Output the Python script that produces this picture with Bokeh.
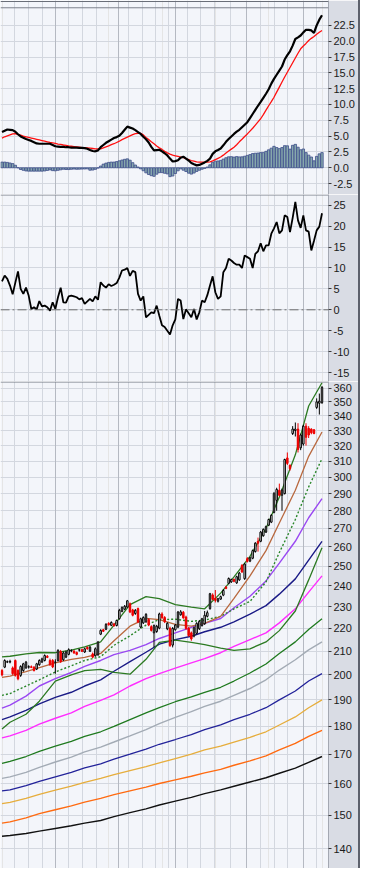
from bokeh.plotting import figure
from bokeh.models import Range1d, FixedTicker, PrintfTickFormatter, Span, Grid, Div
from bokeh.layouts import column, row
from bokeh.embed import file_html
from bokeh.resources import INLINE

# ---------------- data ----------------
# daily bars, index 0..120
opens = [201.8, 203.2, 205.3,
         205.3, 202.9, 206.0, 201.8, 199.8, 201.8, 202.9, 203.2, 203.4, 203.2,
         202.4, 204.2, 205.3, 206.0, 207.8, 206.0, 206.0, 205.2, 206.0, 209.8,
         206.3, 207.4, 208.6, 210.1, 210.0, 209.4, 210.4, 210.6, 209.6, 211.6,
         210.0, 208.8, 208.0, 208.4, 217.4, 219.4, 219.6, 222.3, 221.4, 222.0,
         221.3, 224.4, 227.8, 228.8, 229.8, 231.4, 228.5, 226.8, 229.1, 220.6,
         222.5, 223.0, 224.0, 220.8, 218.0, 218.6, 220.1, 226.6, 225.0, 219.8,
         220.1, 212.6, 219.4, 220.6, 226.2, 227.4, 225.2, 220.1, 218.0, 216.6,
         217.8, 219.8, 221.3, 222.1, 225.5, 229.1, 235.6, 234.0, 232.6, 233.6,
         235.5, 239.4, 241.3, 242.0, 243.2, 241.5, 243.0, 250.3, 243.6, 253.8,
         252.5, 254.0, 257.5, 263.0, 263.0, 266.0, 268.0, 271.8, 273.5, 279.0,
         286.0, 292.0, 289.0, 290.0, 312.0, 307.4, 328.0, 330.0, 331.0, 318.5,
         321.0, 333.0, 331.5, 331.0, 330.5, 346.0, 349.0, 349.5]
highs = [202.4, 206.5, 206.0,
         206.3, 203.5, 206.4, 202.3, 204.0, 205.0, 205.8, 204.0, 203.9, 203.6,
         205.0, 206.5, 207.2, 208.6, 208.3, 206.8, 206.6, 206.5, 210.8, 210.5,
         209.8, 210.2, 211.2, 210.8, 210.4, 209.8, 211.0, 211.0, 211.5, 212.0,
         212.2, 209.4, 211.6, 214.4, 219.6, 219.8, 222.4, 222.8, 223.2, 222.5,
         224.0, 229.0, 230.2, 230.8, 233.2, 232.0, 229.0, 228.9, 229.6, 224.9,
         225.5, 227.0, 224.6, 221.4, 221.8, 221.6, 227.2, 227.4, 225.6, 222.8,
         220.8, 220.6, 222.0, 228.0, 228.4, 228.0, 225.8, 220.6, 218.6, 220.8,
         222.8, 223.7, 224.8, 228.0, 228.2, 236.6, 236.4, 238.0, 234.2, 235.3,
         238.4, 240.0, 244.2, 243.6, 243.7, 245.1, 247.0, 251.0, 251.6, 254.6,
         254.8, 258.6, 262.5, 265.0, 268.6, 270.0, 271.6, 275.5, 278.0, 291.0,
         293.5, 296.0, 293.0, 311.5, 315.5, 307.8, 333.0, 335.5, 335.0, 328.0,
         334.0, 335.0, 333.0, 331.5, 331.0, 352.5, 356.0, 361.5]
lows = [199.4, 202.8, 204.9,
        204.8, 200.0, 199.3, 197.8, 199.2, 201.3, 202.5, 202.6, 202.8, 201.4,
        202.0, 203.8, 205.0, 205.6, 207.0, 203.8, 202.8, 200.5, 205.5, 205.0,
        205.8, 207.0, 208.2, 209.5, 208.8, 208.2, 209.8, 209.6, 209.2, 210.6,
        209.6, 207.0, 207.6, 208.0, 217.0, 218.4, 219.2, 221.3, 221.0, 220.8,
        220.9, 224.0, 227.4, 228.4, 229.4, 227.0, 225.5, 226.2, 222.4, 220.0,
        222.0, 222.5, 221.0, 218.6, 211.7, 218.0, 219.6, 224.4, 222.4, 219.2,
        211.8, 211.6, 219.0, 220.1, 225.8, 224.4, 219.4, 216.3, 214.5, 216.0,
        217.3, 219.3, 220.8, 221.6, 225.0, 228.6, 233.0, 232.0, 232.0, 233.2,
        235.0, 238.4, 240.8, 241.5, 241.8, 241.0, 242.5, 246.5, 243.0, 251.8,
        252.0, 253.5, 257.0, 257.5, 262.5, 265.5, 267.5, 271.3, 273.0, 278.5,
        280.0, 288.5, 280.0, 289.5, 307.5, 304.0, 327.0, 326.0, 315.5, 317.0,
        320.0, 320.0, 325.0, 327.5, 327.5, 345.0, 341.0, 348.5]
closes = [200.0, 206.0, 205.5,
          205.6, 200.5, 199.8, 198.4, 203.5, 204.6, 205.3, 203.4, 203.1, 201.8,
          204.6, 206.0, 206.7, 208.1, 207.3, 204.2, 203.3, 205.4, 210.3, 205.5,
          209.2, 209.6, 210.6, 210.3, 209.2, 208.6, 210.6, 209.9, 211.0, 211.0,
          211.7, 207.4, 211.0, 213.9, 219.1, 218.7, 221.8, 221.6, 222.7, 221.2,
          223.6, 228.3, 229.6, 230.2, 232.8, 227.5, 226.0, 228.3, 222.9, 224.4,
          225.0, 226.4, 221.5, 219.1, 221.3, 221.0, 226.6, 224.8, 223.0, 222.3,
          212.4, 220.0, 221.5, 227.5, 227.6, 224.8, 220.0, 216.8, 215.3, 220.3,
          222.3, 223.2, 224.4, 226.0, 227.2, 236.2, 233.5, 233.0, 233.8, 234.8,
          237.8, 238.8, 243.7, 243.2, 242.3, 244.6, 246.4, 247.0, 251.0, 252.4,
          254.3, 258.0, 262.0, 262.0, 268.0, 269.5, 271.0, 275.0, 277.4, 290.0,
          292.5, 289.0, 292.0, 311.0, 308.5, 305.2, 331.0, 331.0, 317.5, 327.0,
          333.0, 325.5, 327.0, 328.5, 328.0, 350.0, 350.5, 360.5]

macd = [5.65, 5.85, 6.05,
        6.0, 5.95, 5.7, 5.3, 4.95, 4.75, 4.55, 4.4, 4.25, 4.05,
        3.85, 3.8, 3.8, 3.8, 3.8, 3.8, 3.6, 3.4, 3.35, 3.3,
        3.3, 3.25, 3.25, 3.2, 3.2, 3.2, 3.15, 3.15, 3.1, 3.0,
        2.8, 2.65, 2.6, 2.75, 3.25, 3.6, 3.95, 4.2, 4.45, 4.7,
        4.85, 5.05, 5.5, 6.0, 6.5, 6.35, 6.2, 5.95, 5.65, 5.35,
        4.9, 4.5, 4.0, 3.3, 2.75, 2.8, 2.85, 2.6, 2.3, 1.95,
        1.45, 1.0, 1.05, 1.2, 1.6, 1.75, 1.45, 1.15, 0.75, 0.55,
        0.38, 0.45, 0.65, 0.85, 1.1, 1.45, 2.2, 2.6, 2.8, 3.05,
        3.55, 4.1, 4.55, 4.95, 5.35, 5.7, 6.0, 6.4, 6.8, 7.2,
        7.85, 8.5, 9.15, 9.8, 10.4, 11.05, 11.7, 12.4, 13.3, 14.05,
        14.7, 15.35, 16.0, 17.1, 17.8, 18.4, 19.3, 20.35, 20.6, 20.9,
        21.4, 21.8, 21.8, 21.7, 21.3, 22.5, 23.4, 24.1]
signal = [4.7, 4.9, 5.05,
          5.2, 5.35, 5.4, 5.25, 5.15, 5.0, 4.9, 4.8, 4.7, 4.6,
          4.5, 4.4, 4.3, 4.2, 4.1, 4.0, 3.95, 3.85, 3.75, 3.7,
          3.6, 3.55, 3.45, 3.4, 3.35, 3.3, 3.25, 3.2, 3.2, 3.15,
          3.1, 3.05, 3.0, 3.0, 3.0, 3.15, 3.3, 3.45, 3.65, 3.8,
          4.0, 4.2, 4.45, 4.65, 4.85, 5.05, 5.25, 5.4, 5.45, 5.45,
          5.2, 4.8, 4.45, 4.1, 3.8, 3.45, 3.15, 2.9, 2.6, 2.35,
          2.15, 2.0, 1.9, 1.8, 1.7, 1.6, 1.45, 1.3, 1.15, 1.05,
          0.95, 0.9, 0.9, 0.9, 0.9, 0.95, 1.1, 1.3, 1.5, 1.7,
          2.0, 2.35, 2.65, 2.95, 3.25, 3.65, 4.1, 4.5, 4.95, 5.35,
          5.8, 6.25, 6.75, 7.25, 7.75, 8.4, 9.1, 9.8, 10.45, 11.15,
          11.95, 12.75, 13.55, 14.35, 15.1, 15.85, 16.6, 17.35, 18.1, 18.8,
          19.25, 19.65, 20.1, 20.45, 20.75, 21.1, 21.4, 21.7]
hist = [0.9, 0.9, 0.85,
        0.76, 0.66, 0.4, 0.0, -0.27, -0.4, -0.5, -0.53, -0.53, -0.53,
        -0.53, -0.53, -0.53, -0.5, -0.42, -0.33, -0.45, -0.48, -0.4, -0.32,
        -0.23, -0.27, -0.28, -0.24, -0.2, -0.24, -0.22, -0.2, -0.19, -0.17,
        -0.38, -0.36, -0.25, -0.05, 0.28, 0.58, 0.74, 0.85, 0.9, 0.9,
        0.98, 1.1, 1.23, 1.34, 1.41, 1.2, 0.81, 0.44, 0.12, -0.17,
        -0.47, -0.8, -1.06, -1.25, -1.35, -1.01, -0.77, -0.76, -0.87, -0.97,
        -1.4, -1.3, -0.9, -0.48, -0.17, -0.38, -0.59, -0.85, -1.0, -0.83,
        -0.58, -0.39, -0.23, -0.1, 0.12, 0.47, 0.87, 1.05, 1.08, 1.17,
        1.38, 1.59, 1.74, 1.76, 1.69, 1.77, 1.72, 1.73, 1.83, 1.96,
        2.08, 2.25, 2.3, 2.33, 2.4, 2.4, 2.6, 2.84, 3.1, 3.39,
        3.2, 3.03, 3.2, 3.5, 3.47, 2.95, 3.55, 3.7, 3.25, 2.85,
        2.97, 2.4, 2.0, 1.7, 1.1, 1.8, 2.2, 2.4]
momentum = [6.8, 8.2, 7.4,
            5.8, 3.7, 6.5, 9.2, 5.0, 3.8, 5.3, 3.4, 0.2, 0.6,
            0.1, 2.1, 0.8, 1.0, 0.6, -0.2, 1.8, 0.2, 3.0, 5.3,
            1.8, 1.7, 3.2, 3.4, 3.2, 3.0, 2.5, 2.8, 1.4, 2.0,
            2.6, 2.0, 3.2, 2.4, 6.6, 5.8, 5.3, 6.1, 5.7, 6.0,
            6.4, 7.7, 9.4, 9.6, 10.0, 8.1, 9.3, 9.0, 3.8, 2.2,
            3.2, -1.8, -1.2, -0.6, -0.8, 1.0, -1.4, -3.7, -4.1, -5.0,
            -5.9, -3.7, -2.3, 2.6, 2.2, -2.2, 0.1, -0.8, -1.8, 0.2,
            -2.3, -0.6, 2.2, 1.8, 3.5, 5.8, 8.0, 4.2, 2.6, 3.2,
            9.0, 10.0, 12.2, 11.8, 11.2, 10.8, 10.8, 10.0, 13.0, 12.6,
            12.2, 10.0, 13.4, 14.0, 15.9, 14.0, 15.4, 15.4, 18.2, 19.5,
            21.0, 18.3, 19.0, 22.6, 22.2, 18.6, 22.0, 25.8, 21.4, 19.6,
            22.6, 19.0, 18.7, 14.2, 16.5, 19.0, 19.9, 23.1]

# moving averages / bands, read at these bar indices
ma_idx = [0, 3, 9, 14, 20, 26, 31, 37, 42, 48, 54, 59, 65, 71, 76, 82, 87, 93, 99, 104, 110, 115, 120]
ma_brown = [199.0, 199.5, 201.3, 203.0, 205.0, 206.5, 207.3, 209.0, 214.5, 221.0, 224.6, 224.0, 221.8, 221.0, 222.3, 225.5, 234.0, 245.0, 258.0, 273.0, 292.0, 313.0, 329.0]
bb_upper = [207.5, 207.8, 208.8, 209.4, 209.3, 210.4, 211.8, 214.0, 221.5, 231.0, 234.8, 233.8, 231.0, 229.8, 229.0, 236.5, 244.5, 255.0, 270.0, 288.0, 314.0, 347.0, 364.0]
bb_lower = [179.0, 181.5, 184.5, 189.5, 197.5, 200.0, 201.8, 202.3, 201.0, 200.3, 206.5, 213.8, 214.8, 213.8, 212.8, 211.3, 210.3, 211.0, 214.0, 219.0, 228.0, 243.0, 259.5]
ma_dotted = [191.8, 192.5, 195.5, 198.0, 201.2, 203.8, 206.0, 207.6, 212.5, 216.7, 221.5, 224.0, 224.2, 223.2, 223.8, 225.5, 229.0, 232.5, 242.0, 257.0, 275.0, 294.0, 311.5]
ma_purple = [186.8, 188.0, 191.5, 195.5, 198.5, 201.0, 203.5, 206.0, 208.5, 210.3, 212.8, 215.5, 218.0, 220.5, 222.3, 224.5, 229.5, 235.0, 242.5, 251.5, 263.0, 276.0, 287.0]
ma_navy = [182.5, 183.5, 186.0, 188.5, 191.0, 193.0, 195.5, 198.0, 201.5, 205.5, 209.5, 213.0, 215.0, 216.5, 218.5, 220.5, 223.0, 226.5, 230.5, 236.0, 243.5, 253.0, 263.0]
ma_magenta = [175.8, 176.5, 178.5, 180.8, 183.0, 185.0, 187.5, 189.8, 192.0, 195.5, 198.5, 200.5, 202.8, 205.0, 206.8, 209.3, 212.0, 215.0, 218.0, 222.5, 229.0, 237.0, 245.0]
ma_green = [166.8, 167.5, 169.2, 171.0, 172.8, 174.5, 176.3, 178.0, 180.0, 182.5, 185.0, 187.0, 189.3, 191.2, 193.0, 195.0, 197.5, 200.8, 204.5, 209.0, 214.0, 219.5, 224.4]
ma_gray = [161.8, 162.3, 163.8, 165.5, 167.3, 169.0, 170.8, 172.5, 174.3, 176.5, 178.8, 181.0, 183.3, 185.5, 187.5, 189.5, 191.8, 194.5, 198.0, 202.0, 206.3, 210.5, 214.0]
ma_blue = [157.7, 158.0, 159.4, 160.8, 162.3, 163.8, 165.3, 166.7, 168.3, 170.0, 171.8, 173.5, 175.2, 177.0, 178.8, 180.5, 182.5, 184.5, 187.0, 190.0, 193.5, 197.5, 200.5]
ma_gold = [153.6, 154.0, 155.3, 156.6, 157.9, 159.2, 160.5, 161.8, 163.0, 164.4, 165.7, 167.0, 168.5, 170.0, 171.5, 172.8, 174.3, 176.0, 178.0, 180.5, 183.5, 187.0, 190.0]
ma_orange = [147.6, 148.0, 149.2, 150.5, 151.7, 152.9, 154.1, 155.3, 156.5, 157.7, 158.9, 160.1, 161.3, 162.5, 163.6, 164.8, 166.2, 167.7, 169.4, 171.5, 173.8, 176.3, 178.5]
ma_black = [143.7, 143.9, 144.5, 145.2, 146.0, 146.8, 147.6, 148.4, 149.6, 150.8, 152.0, 153.2, 154.4, 155.6, 156.8, 158.0, 159.2, 160.6, 162.0, 163.5, 165.2, 167.2, 169.2]

week_marks = [4.5, 10, 15, 25, 30, 35.5, 47.5, 52.5, 57.5, 62.5, 69.5, 74.5, 79.5, 85.5, 97, 102, 107, 118]
month_marks = [20, 43.5, 65, 91.5, 113]

macd_ticks = [-2.5, 0.0, 2.5, 5.0, 7.5, 10.0, 12.5, 15.0, 17.5, 20.0, 22.5]
mom_ticks = [-15, -10, -5, 0, 5, 10, 15, 20, 25]
price_ticks = [140, 150, 160, 170, 180, 190, 200, 210, 220, 230, 240, 250, 260, 270, 280,
               290, 300, 310, 320, 330, 340, 350, 360]

# ---------------- figures ----------------
bars = list(range(len(closes)))
xr = Range1d(-0.5625, 122.4375)

FONT = "Liberation Sans"
EDGE = "#7d818c"


def make_fig(h, yr, ticks, fmt, log=False):
    p = figure(width=358, height=h, x_range=xr, y_range=yr,
               y_axis_type="log" if log else "linear",
               x_axis_location=None, y_axis_location="right",
               output_backend="svg", toolbar_location=None,
               min_border_left=0, min_border_right=30,
               min_border_top=0, min_border_bottom=0)
    p.background_fill_color = "#f3f5fa"
    p.border_fill_color = "#d9dce4"
    p.outline_line_color = None
    ax = p.yaxis[0]
    ax.ticker = FixedTicker(ticks=ticks)
    ax.formatter = PrintfTickFormatter(format=fmt)
    ax.major_label_text_font = FONT
    ax.major_label_text_font_size = "11px"
    ax.major_label_text_color = "#1a1a1a"
    ax.major_label_standoff = 2
    ax.major_tick_out = 3
    ax.major_tick_in = 0
    ax.major_tick_line_color = "#3a3a3a"
    ax.minor_tick_line_color = None
    ax.axis_line_color = "#a4a8b2"
    p.ygrid[0].ticker = FixedTicker(ticks=ticks)
    p.ygrid[0].grid_line_color = "#d3d7df"
    p.ygrid[0].grid_line_width = 1
    g1 = Grid(dimension=0, ticker=FixedTicker(ticks=week_marks),
              grid_line_color="#d3d7df", grid_line_width=1)
    g2 = Grid(dimension=0, ticker=FixedTicker(ticks=month_marks),
              grid_line_color="#b5b9c2", grid_line_width=1)
    p.add_layout(g1)
    p.add_layout(g2)
    return p


# MACD panel (page y 0..194)
p1 = make_fig(194, Range1d(-4.22, 26.43), macd_ticks, "%.1f")
p1.add_layout(Span(location=26.27, dimension="width", line_color="#6a6e78", line_width=1))
p1.add_layout(Span(location=25.28, dimension="width", line_color=EDGE, line_width=1))
p1.vbar(x=bars, top=hist, bottom=0, width=0.9,
        fill_color="#86a8ac", line_color="#3d4d8c", line_width=0.8)
p1.line(bars, signal, line_color="#ff1010", line_width=1.3)
p1.line(bars, macd, line_color="#000000", line_width=2.2)

# momentum panel (page y 194..381)
p2 = make_fig(187, Range1d(-17.15, 27.58), mom_ticks, "%d")
p2.add_layout(Span(location=27.46, dimension="width", line_color=EDGE, line_width=1))
p2.add_layout(Span(location=0, dimension="width", line_color="#6e6e6e",
                   line_dash="9 3 2 3", line_width=1))
p2.line(bars, momentum, line_color="#000000", line_width=1.8)

# price panel (page y 381..868)
p3 = make_fig(487, Range1d(134.5, 364.9), price_ticks, "%d", log=True)
p3.add_layout(Span(location=364.5, dimension="width", line_color=EDGE, line_width=1))
ma_styles = [
    (ma_black, "#111111", 1.4, "solid"),
    (ma_orange, "#ff6a10", 1.4, "solid"),
    (ma_gold, "#e6ad3c", 1.3, "solid"),
    (ma_blue, "#23239a", 1.3, "solid"),
    (ma_gray, "#a3abb5", 1.4, "solid"),
    (ma_green, "#1f7a1f", 1.3, "solid"),
    (ma_magenta, "#ff2cff", 1.4, "solid"),
    (ma_navy, "#1a1a86", 1.4, "solid"),
    (ma_purple, "#9a48f2", 1.4, "solid"),
    (ma_dotted, "#2a862a", 1.4, "2 2"),
    (bb_lower, "#2c7a22", 1.3, "solid"),
    (bb_upper, "#2c7a22", 1.3, "solid"),
    (ma_brown, "#b8683e", 1.3, "solid"),
]
for vals, col, lw, dash in ma_styles:
    p3.line(ma_idx, vals, line_color=col, line_width=lw, line_dash=dash)

up = [i for i in bars if closes[i] >= opens[i]]
dn = [i for i in bars if closes[i] < opens[i]]
p3.segment(x0=up, x1=up, y0=[lows[i] for i in up], y1=[highs[i] for i in up],
           line_color="#000000", line_width=1)
p3.segment(x0=dn, x1=dn, y0=[lows[i] for i in dn], y1=[highs[i] for i in dn],
           line_color="#ee0000", line_width=1)
p3.vbar(x=up, bottom=[opens[i] for i in up], top=[closes[i] for i in up], width=0.55,
        fill_color="#ffffff", line_color="#000000", line_width=1)
p3.vbar(x=dn, bottom=[closes[i] for i in dn], top=[opens[i] for i in dn], width=0.55,
        fill_color="#ee0000", line_color="#ee0000", line_width=1)

edge = Div(width=2, height=868, margin=(0, 0, 0, 0),
           styles={"background-color": "#5d616c"})
layout = row(column(p1, p2, p3, spacing=0), edge, spacing=0)

open("out.html", "w").write(file_html(layout, INLINE))
